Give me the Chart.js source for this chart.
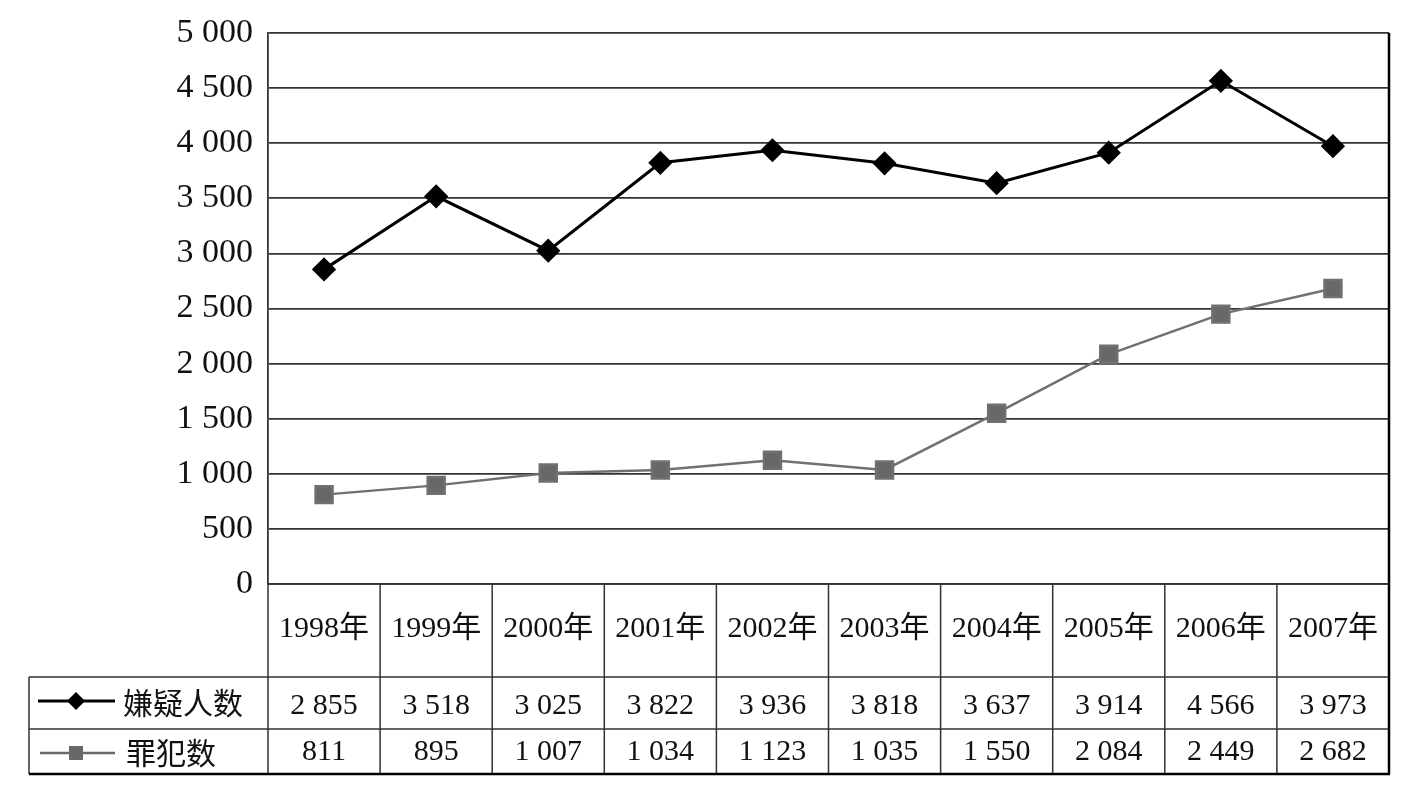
<!DOCTYPE html>
<html>
<head>
<meta charset="utf-8">
<script src="https://cdn.jsdelivr.net/npm/chart.js@4.4.0/dist/chart.umd.min.js"></script>
<style>
  html, body { margin: 0; padding: 0; background: #fff; }
  #wrap { width: 1414px; height: 801px; }
</style>
</head>
<body>
<div id="wrap"><canvas id="chart" width="1414" height="801"></canvas></div>
<script>
// data
const years = ['1998年', '1999年', '2000年', '2001年', '2002年', '2003年', '2004年', '2005年', '2006年', '2007年'];
const suspects = [2855, 3518, 3025, 3822, 3936, 3818, 3637, 3914, 4566, 3973];
const criminals = [811, 895, 1007, 1034, 1123, 1035, 1550, 2084, 2449, 2682];
const seriesNames = ['嫌疑人数', '罪犯数'];

const serif = '"Liberation Serif", "Times New Roman", serif';
const cjk = '"Liberation Serif", "Noto Sans CJK SC", serif';
const gray = '#686868';

function fmt(n) {
  return String(n).replace(/\B(?=(\d{3})+(?!\d))/g, ' ');
}

// draws the data table below the plot, using the x scale for the columns
const tablePlugin = {
  id: 'dataTable',
  afterDraw(chart) {
    const ctx = chart.ctx;
    const x = chart.scales.x;
    const area = chart.chartArea;
    const colW = x.getPixelForValue(1) - x.getPixelForValue(0);
    const left = area.left, right = area.right;
    const tableLeft = 29;
    const rows = [area.bottom, 677, 729, 774];

    ctx.save();
    ctx.strokeStyle = '#333';
    ctx.lineWidth = 1.5;
    // horizontal lines
    ctx.beginPath();
    ctx.moveTo(left, rows[0]); ctx.lineTo(right, rows[0]);
    ctx.moveTo(tableLeft, rows[1]); ctx.lineTo(right, rows[1]);
    ctx.moveTo(tableLeft, rows[2]); ctx.lineTo(right, rows[2]);
    ctx.stroke();
    // vertical lines
    ctx.beginPath();
    for (let i = 0; i < years.length; i++) {
      const bx = x.getPixelForValue(i) - colW / 2;
      ctx.moveTo(bx, rows[0]); ctx.lineTo(bx, rows[3]);
    }
    ctx.moveTo(tableLeft, rows[1]); ctx.lineTo(tableLeft, rows[3]);
    ctx.stroke();
    // heavier right and bottom edges
    ctx.lineWidth = 2.5;
    ctx.strokeStyle = '#000';
    ctx.beginPath();
    ctx.moveTo(right, area.top); ctx.lineTo(right, rows[3]);
    ctx.moveTo(tableLeft, rows[3]); ctx.lineTo(right + 1, rows[3]);
    ctx.stroke();

    // text
    ctx.fillStyle = '#111';
    ctx.textAlign = 'center';
    ctx.textBaseline = 'middle';
    ctx.font = '30px ' + cjk;
    years.forEach((y, i) => ctx.fillText(y, x.getPixelForValue(i), 629));
    ctx.font = '30px ' + serif;
    suspects.forEach((v, i) => ctx.fillText(fmt(v), x.getPixelForValue(i), 706));
    criminals.forEach((v, i) => ctx.fillText(fmt(v), x.getPixelForValue(i), 752));

    // legend keys
    ctx.lineWidth = 3;
    ctx.strokeStyle = '#000';
    ctx.beginPath(); ctx.moveTo(38, 701); ctx.lineTo(115, 701); ctx.stroke();
    ctx.fillStyle = '#000';
    ctx.beginPath();
    ctx.moveTo(76, 692); ctx.lineTo(85, 701); ctx.lineTo(76, 710); ctx.lineTo(67, 701);
    ctx.closePath(); ctx.fill();
    ctx.lineWidth = 2.5;
    ctx.strokeStyle = gray;
    ctx.beginPath(); ctx.moveTo(40, 753); ctx.lineTo(115, 753); ctx.stroke();
    ctx.fillStyle = gray;
    ctx.fillRect(69, 746, 14, 14);

    ctx.fillStyle = '#111';
    ctx.textAlign = 'left';
    ctx.font = '30px "Noto Sans CJK SC", sans-serif';
    ctx.fillText(seriesNames[0], 123, 703);
    ctx.fillText(seriesNames[1], 126, 753);
    ctx.restore();
  }
};

new Chart(document.getElementById('chart'), {
  type: 'line',
  data: {
    labels: years,
    datasets: [
      {
        label: seriesNames[0],
        data: suspects,
        borderColor: '#000',
        backgroundColor: '#000',
        borderWidth: 3,
        pointStyle: 'rectRot',
        pointRadius: 10,
        pointHoverRadius: 10,
        tension: 0
      },
      {
        label: seriesNames[1],
        data: criminals,
        borderColor: '#707070',
        backgroundColor: gray,
        borderWidth: 2.5,
        pointStyle: 'rect',
        pointRadius: 12,
        pointHoverRadius: 12,
        tension: 0
      }
    ]
  },
  options: {
    responsive: false,
    animation: false,
    events: [],
    layout: { padding: { top: 33, bottom: 217, left: 0, right: 25 } },
    plugins: {
      legend: { display: false },
      tooltip: { enabled: false }
    },
    scales: {
      x: {
        display: false,
        offset: true
      },
      y: {
        min: 0,
        max: 5000,
        afterFit(scale) { scale.width = 268; },
        ticks: {
          stepSize: 500,
          padding: 15,
          color: '#111',
          font: { family: serif, size: 34, lineHeight: 1 },
          callback: v => fmt(v)
        },
        grid: { color: '#333', lineWidth: 1.8, drawTicks: false },
        border: { display: true, color: '#333', width: 1.8 }
      }
    }
  },
  plugins: [tablePlugin]
});
</script>
</body>
</html>
